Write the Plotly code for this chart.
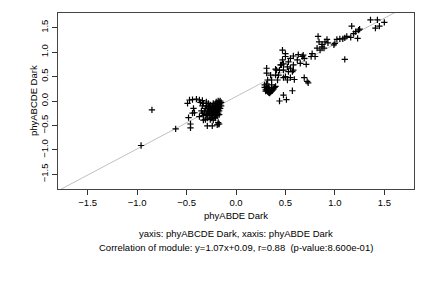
import plotly.graph_objects as go

# Cluster data (x: phyABDE Dark, y: phyABCDE Dark)
x_outliers = [-0.96, -0.85, -0.61]
y_outliers = [-0.91, -0.18, -0.57]

x_c1_sparse = [-0.49, -0.47, -0.44, -0.40, -0.37, -0.36, -0.34, -0.43, -0.44, -0.42, -0.48, -0.46, -0.46,
               -0.37, -0.34, -0.33, -0.29, -0.24, -0.19, -0.18, -0.23]
y_c1_sparse = [-0.05, 0.02, 0.03, 0.04, 0.02, -0.03, 0.01, -0.15, -0.25, -0.24, -0.34, -0.47, -0.55,
               -0.32, -0.25, -0.39, -0.51, -0.51, -0.49, -0.47, -0.39]

x_c1_dense = [-0.33, -0.32, -0.31, -0.30, -0.30, -0.29, -0.29, -0.28, -0.28, -0.27, -0.27, -0.26, -0.26,
              -0.25, -0.25, -0.25, -0.24, -0.24, -0.23, -0.23, -0.22, -0.22, -0.22, -0.21, -0.21, -0.21,
              -0.20, -0.20, -0.20, -0.19, -0.19, -0.19, -0.18, -0.18, -0.18, -0.17, -0.17, -0.17, -0.16,
              -0.16, -0.16, -0.15, -0.15, -0.26, -0.31, -0.34, -0.33, -0.35, -0.30, -0.28, -0.23, -0.20,
              -0.18, -0.24, -0.27, -0.21, -0.19, -0.17, -0.18, -0.17, -0.21]
y_c1_dense = [-0.30, -0.22, -0.15, -0.28, -0.10, -0.35, -0.20, -0.25, -0.12, -0.30, -0.18, -0.22, -0.08,
              -0.27, -0.15, -0.35, -0.20, -0.10, -0.25, -0.16, -0.30, -0.12, -0.20, -0.24, -0.06, -0.15,
              -0.18, -0.28, -0.10, -0.14, -0.22, -0.04, -0.08, -0.17, -0.25, -0.12, -0.02, -0.20, -0.06,
              -0.15, 0.00, -0.10, -0.03, -0.38, -0.38, -0.10, -0.05, -0.20, -0.02, -0.05, -0.05, -0.02,
              0.00, -0.30, -0.12, -0.33, -0.30, -0.28, -0.44, -0.47, -0.35]

x_hook = [0.29, 0.29, 0.30, 0.30, 0.31, 0.31, 0.32, 0.32, 0.33, 0.33, 0.34, 0.34, 0.35, 0.36, 0.37,
          0.38, 0.39, 0.40, 0.31, 0.33]
y_hook = [0.33, 0.28, 0.24, 0.20, 0.30, 0.22, 0.19, 0.26, 0.17, 0.23, 0.16, 0.21, 0.18, 0.20, 0.22,
          0.25, 0.28, 0.30, 0.35, 0.28]

x_c2 = [0.44, 0.48, 0.51, 0.57, 0.69, 0.72, 0.73,
        0.31, 0.31, 0.35, 0.36, 0.32, 0.40, 0.41, 0.42, 0.43, 0.46, 0.48, 0.48, 0.50, 0.52, 0.55,
        0.57, 0.59, 0.53, 0.47, 0.50, 0.50, 0.47, 0.53, 0.55, 0.58, 0.63, 0.62, 0.67, 0.68, 0.69,
        0.65, 0.58, 0.58, 0.55, 0.52, 0.48, 0.45, 0.44, 0.40, 0.36, 0.76, 0.77, 0.71, 0.80]
y_c2 = [0.00, 0.12, 0.03, 0.21, 0.48, 0.40, 0.37,
        0.67, 0.57, 0.53, 0.43, 0.43, 0.65, 0.63, 0.43, 0.53, 0.74, 0.63, 0.48, 0.50, 0.43, 0.48,
        0.60, 0.44, 0.60, 0.84, 0.91, 0.97, 1.04, 0.80, 0.87, 0.92, 0.95, 0.84, 0.91, 0.94, 0.87,
        0.77, 0.74, 0.63, 0.67, 0.70, 0.76, 0.74, 0.63, 0.53, 0.33, 0.91, 0.97, 0.75, 0.91]

x_c3 = [0.82, 0.84, 0.83, 0.85, 0.87, 0.89, 0.90, 0.92, 0.93, 0.87, 0.99, 1.00, 1.02, 1.05, 1.08,
        1.12, 1.10, 1.16, 1.19, 1.21, 1.17, 1.24, 1.25, 1.23, 1.10, 1.36, 1.43, 1.41, 1.45, 1.50]
y_c3 = [1.08, 1.21, 1.32, 1.04, 1.11, 1.08, 1.21, 1.26, 1.19, 1.16, 1.15, 1.18, 1.26, 1.27, 1.27,
        1.32, 1.29, 1.30, 1.38, 1.42, 1.53, 1.45, 1.47, 1.28, 0.85, 1.66, 1.66, 1.49, 1.53, 1.61]

slope = 1.07
intercept = 0.09
axis_range = [-1.8, 1.8]
tick_vals = [-1.5, -1.0, -0.5, 0.0, 0.5, 1.0, 1.5]

x_all = x_outliers + x_c1_sparse + x_c1_dense + x_hook + x_c2 + x_c3
y_all = y_outliers + y_c1_sparse + y_c1_dense + y_hook + y_c2 + y_c3

line_x = [axis_range[0] - 0.2, axis_range[1] + 0.2]
line_y = [slope * v + intercept for v in line_x]

font_family = "Liberation Sans, Arial, sans-serif"

fig = go.Figure()
fig.add_trace(go.Scatter(x=line_x, y=line_y, mode="lines",
                         line=dict(color="#c0c0c0", width=1), hoverinfo="skip"))
fig.add_trace(go.Scatter(x=x_all, y=y_all, mode="markers",
                         marker=dict(symbol="cross-thin-open", size=4.5, color="black",
                                     line=dict(color="black", width=1.2))))

axis_common = dict(range=axis_range, tickvals=tick_vals, tickformat=".1f",
                   ticks="outside", ticklen=5, tickwidth=1, tickcolor="#333",
                   showline=True, linecolor="#444", linewidth=1, mirror=True,
                   showgrid=False, zeroline=False,
                   tickfont=dict(family=font_family, size=9.5, color="black"))

fig.update_layout(
    width=432, height=288,
    margin=dict(l=58, r=18, t=13, b=99),
    paper_bgcolor="white", plot_bgcolor="white",
    showlegend=False,
    font=dict(family=font_family, size=9.5, color="black"),
    xaxis=dict(**axis_common),
    yaxis=dict(**axis_common, tickangle=-90),
)

annotations = [
    dict(text="phyABDE Dark", x=0.5, y=-0.153, xref="paper", yref="paper",
         showarrow=False, xanchor="center", yanchor="middle"),
    dict(text="phyABCDE Dark", x=-0.070, y=0.5, xref="paper", yref="paper",
         showarrow=False, xanchor="center", yanchor="middle", textangle=-90),
    dict(text="yaxis: phyABCDE Dark, xaxis: phyABDE Dark", x=0.5, y=-0.25,
         xref="paper", yref="paper", showarrow=False, xanchor="center", yanchor="middle"),
    dict(text="Correlation of module: y=1.07x+0.09, r=0.88  (p-value:8.600e-01)", x=0.5, y=-0.335,
         xref="paper", yref="paper", showarrow=False, xanchor="center", yanchor="middle"),
]
fig.update_layout(annotations=annotations)

fig.write_html("out.html")
